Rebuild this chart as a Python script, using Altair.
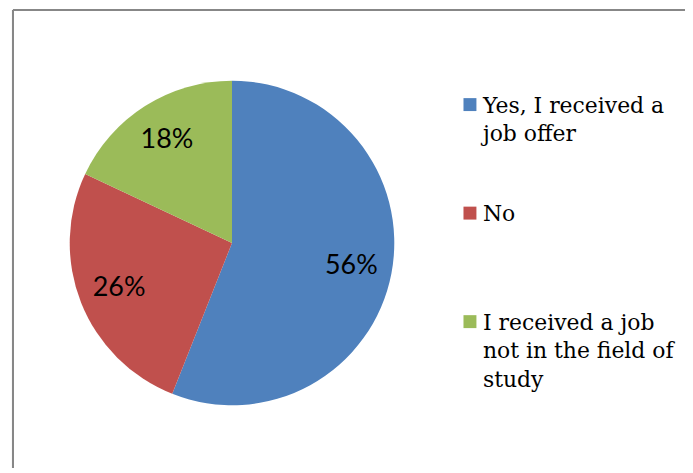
import altair as alt
import pandas as pd

categories = ["Yes, I received a job offer", "No", "I received a job not in the field of study"]
legend_labels = ["Yes, I received a\njob offer", "No", "I received a job\nnot in the field of\nstudy"]
values = [56, 26, 18]
pct_labels = ["56%", "26%", "18%"]
colors = ["#4F81BD", "#C0504D", "#9BBB59"]

df = pd.DataFrame({
    "cat": categories,
    "legend": legend_labels,
    "value": values,
    "pct": pct_labels,
    "idx": list(range(len(categories))),
})

color = alt.Color("cat:N", scale=alt.Scale(domain=categories, range=colors), legend=None)

CX, CY, R = 225, 235, 163
W, H = 680, 460

base = alt.Chart(df).encode(
    theta=alt.Theta("value:Q", stack=True),
    order=alt.Order("idx:Q", sort="ascending"),
)

pie = base.mark_arc(outerRadius=R).encode(
    color=color, x=alt.value(CX), y=alt.value(CY)
)

pie_text = base.mark_text(
    radius=122, font="Lato", fontSize=27, color="#000000"
).encode(text="pct:N", x=alt.value(CX), y=alt.value(CY))

ypos = alt.Y("cat:N", sort=categories, axis=None,
             scale=alt.Scale(type="point", range=[96, 314], padding=0))

leg_sym = alt.Chart(df).mark_square(size=169, opacity=1).encode(
    x=alt.value(464), y=ypos, color=color
)

leg_text = alt.Chart(df).mark_text(
    align="left", baseline="alphabetic", dy=8, lineBreak="\n", lineHeight=29,
    font="DejaVu Serif", fontSize=22, color="#000000"
).encode(x=alt.value(477), y=ypos, text="legend:N")

frame_left = alt.Chart(df).mark_rule(color="#878787", strokeWidth=2).encode(
    x=alt.value(5), y=alt.value(1), y2=alt.value(H + 10)
)
frame_top = alt.Chart(df).mark_rule(color="#878787", strokeWidth=2).encode(
    x=alt.value(5), x2=alt.value(W + 10), y=alt.value(1)
)

chart = alt.layer(pie, pie_text, leg_sym, leg_text, frame_left, frame_top).properties(
    width=W, height=H, padding=0, autosize=alt.AutoSizeParams(type="none"),
    background="white"
).configure_view(stroke=None)

chart.save("out.html", embed_options={"renderer": "svg", "actions": False})
